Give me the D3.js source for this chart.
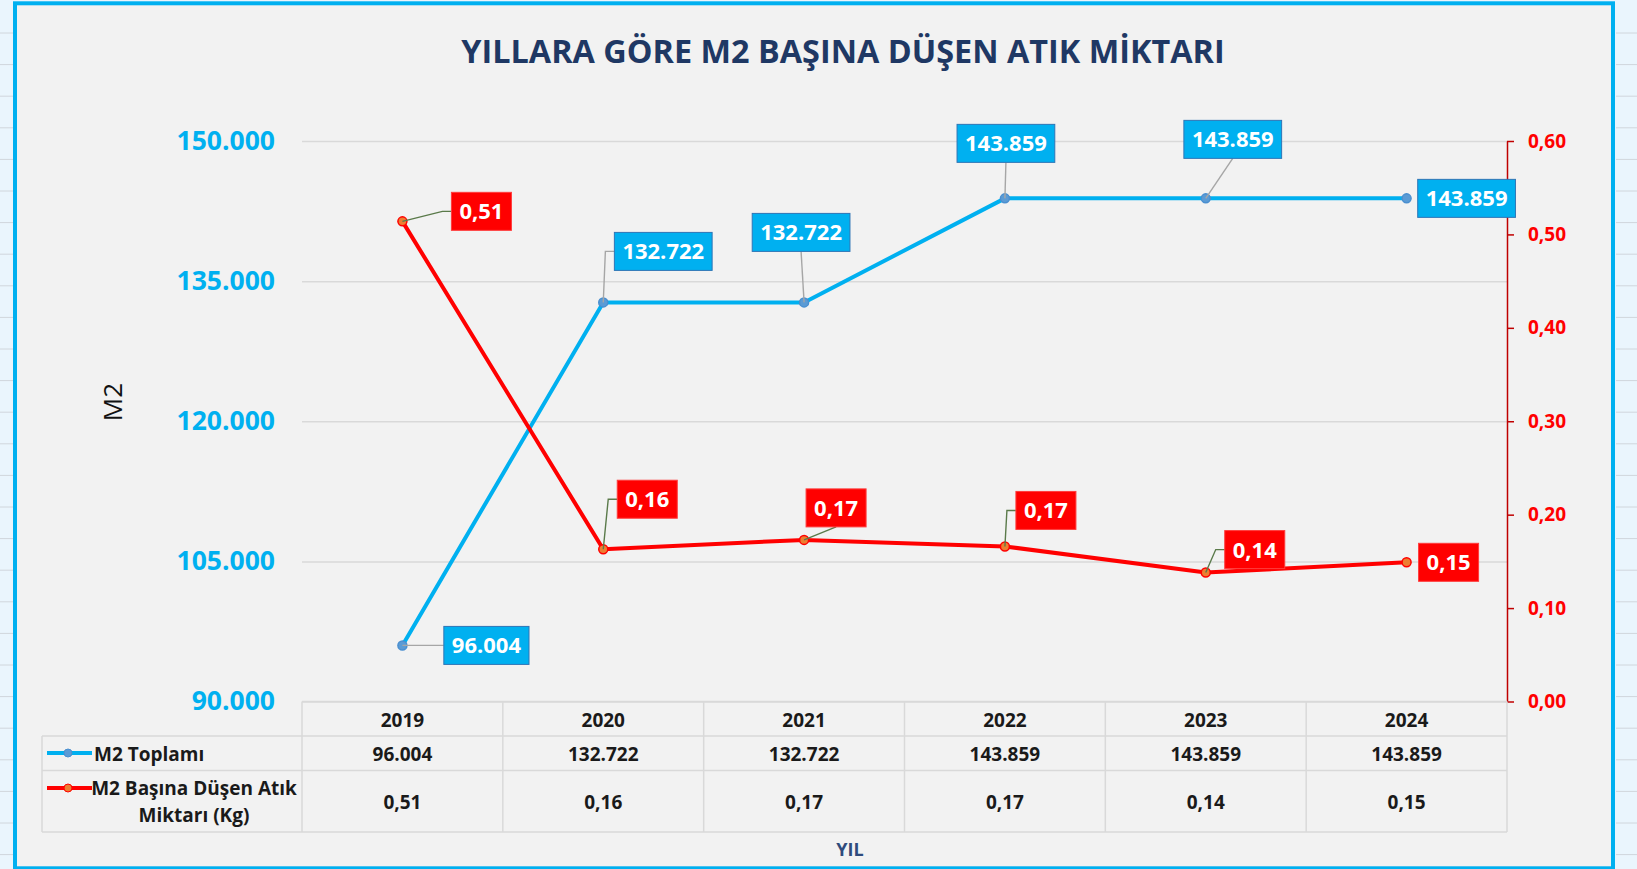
<!DOCTYPE html>
<html>
<head>
<meta charset="utf-8">
<script src="https://cdn.jsdelivr.net/npm/d3@7"></script>
<style>
  body { margin: 0; background: #eaf5fd; overflow: hidden; }
  text { font-family: "Open Sans", sans-serif; }
</style>
</head>
<body>
<div id="chart"></div>
<script>
// Data
const years = ['2019', '2020', '2021', '2022', '2023', '2024']
const m2Totals = [96004, 132722, 132722, 143859, 143859, 143859]
const wastePerM2 = [0.514, 0.163, 0.173, 0.166, 0.138, 0.149]
const leftTicks = [90000, 105000, 120000, 135000, 150000]
const rightTicks = [0, 0.1, 0.2, 0.3, 0.4, 0.5, 0.6]
const m2Name = ['M2 Toplamı']
const wasteName = ['M2 Başına Düşen Atık', 'Miktarı (Kg)']

// label placement: box centre offset from its point + leader kind
const m2LabelPos = [[84, 0, 'elbow'], [60, -51, 'elbow'], [-3, -70, 'bottom'], [1, -55, 'bottom'], [27, -59, 'bottom'], [60, 0, 'none']]
const wasteLabelPos = [[79, -10, 'elbow'], [44, -50, 'elbow'], [32, -32, 'bottom'], [41, -36, 'elbow'], [49, -23, 'elbow'], [42, 0, 'none']]

function draw() {
  // Dimensions
  let dimensions = {
    width: 1637,
    height: 869,
    left: 302,
    right: 1507,
    top: 141,
    bottom: 701.5,
    tableLeft: 42,
    rows: [701.5, 736, 770.5, 832]
  }

  const trLocale = d3.formatLocale({ decimal: ',', thousands: '.', grouping: [3], currency: ['', ' ₺'] })
  const fmtInt = trLocale.format(',.0f')
  const fmtDec = trLocale.format('.2f')

  const blue = '#00b0f0'
  const red = '#ff0000'
  const navy = '#1f3864'
  const grid = '#d9d9d9'

  const svg = d3.select('#chart')
    .append('svg')
    .attr('width', dimensions.width)
    .attr('height', dimensions.height)

  // page behind the chart (spreadsheet strips)
  svg.append('rect')
    .attr('width', dimensions.width)
    .attr('height', dimensions.height)
    .attr('fill', '#eaf5fd')
  const stripLines = d3.range(33, dimensions.height, 31.6)
  svg.append('g').selectAll('line')
    .data(stripLines)
    .join('line')
    .attr('x1', 0).attr('x2', 13)
    .attr('y1', d => d).attr('y2', d => d)
    .attr('stroke', '#d0d6dc')
  svg.append('g').selectAll('line')
    .data(stripLines)
    .join('line')
    .attr('x1', 1616).attr('x2', dimensions.width)
    .attr('y1', d => d).attr('y2', d => d)
    .attr('stroke', '#d0d6dc')

  // chart frame
  svg.append('rect')
    .attr('x', 15)
    .attr('y', 3.3)
    .attr('width', 1598)
    .attr('height', 865)
    .attr('fill', '#f2f2f2')
    .attr('stroke', blue)
    .attr('stroke-width', 4)

  // Title
  svg.append('text')
    .attr('x', 843)
    .attr('y', 63)
    .attr('text-anchor', 'middle')
    .attr('font-size', 32.4)
    .attr('font-weight', 700)
    .attr('fill', navy)
    .text('YILLARA GÖRE M2 BAŞINA DÜŞEN ATIK MİKTARI')

  // Scales
  const xScale = d3.scaleBand()
    .domain(years)
    .range([dimensions.left, dimensions.right])
  const xMid = d => xScale(d) + xScale.bandwidth() / 2

  const yLeft = d3.scaleLinear()
    .domain([90000, 150000])
    .range([dimensions.bottom, dimensions.top])
  const yRight = d3.scaleLinear()
    .domain([0, 0.6])
    .range([dimensions.bottom, dimensions.top])

  // left axis + gridlines
  const leftAxis = d3.axisLeft(yLeft)
    .tickValues(leftTicks)
    .tickFormat(fmtInt)
    .tickSize(-(dimensions.right - dimensions.left))
    .tickPadding(27)
  const leftGroup = svg.append('g')
    .attr('transform', `translate(${dimensions.left},0)`)
    .call(leftAxis)
  leftGroup.select('.domain').remove()
  leftGroup.selectAll('.tick line')
    .attr('stroke', grid)
    .attr('stroke-width', 1.5)
  leftGroup.selectAll('.tick text')
    .attr('fill', blue)
    .attr('font-size', 26.5)
    .attr('font-weight', 700)
    .attr('font-family', '"Open Sans", sans-serif')

  // left axis title
  svg.append('text')
    .attr('transform', 'translate(122,402) rotate(-90)')
    .attr('text-anchor', 'middle')
    .attr('font-size', 26)
    .attr('font-family', '"Liberation Sans", Arial, sans-serif')
    .attr('fill', '#111')
    .text('M2')

  // right axis
  const rightAxis = d3.axisRight(yRight)
    .tickValues(rightTicks)
    .tickFormat(fmtDec)
    .tickSizeInner(7)
    .tickSizeOuter(0)
    .tickPadding(14)
  const rightGroup = svg.append('g')
    .attr('transform', `translate(${dimensions.right},0)`)
    .call(rightAxis)
  rightGroup.select('.domain')
    .attr('stroke', '#c00000')
    .attr('stroke-width', 1.5)
  rightGroup.selectAll('.tick line')
    .attr('stroke', '#c00000')
    .attr('stroke-width', 1.5)
  rightGroup.selectAll('.tick text')
    .attr('fill', red)
    .attr('font-size', 19)
    .attr('font-weight', 700)
    .attr('font-family', '"Open Sans", sans-serif')

  // Data table
  const rows = dimensions.rows
  const table = svg.append('g')
  const hLines = [
    [dimensions.left, rows[0]],
    [dimensions.tableLeft, rows[1]],
    [dimensions.tableLeft, rows[2]],
    [dimensions.tableLeft, rows[3]]
  ]
  table.selectAll('line.h')
    .data(hLines)
    .join('line')
    .attr('class', 'h')
    .attr('x1', d => d[0])
    .attr('x2', dimensions.right)
    .attr('y1', d => d[1])
    .attr('y2', d => d[1])
    .attr('stroke', grid)
    .attr('stroke-width', 1.5)
  const colEdges = years.map(d => xScale(d)).concat([dimensions.right])
  table.selectAll('line.v')
    .data(colEdges)
    .join('line')
    .attr('class', 'v')
    .attr('x1', d => d)
    .attr('x2', d => d)
    .attr('y1', rows[0])
    .attr('y2', rows[3])
    .attr('stroke', grid)
    .attr('stroke-width', 1.5)
  table.append('line')
    .attr('x1', dimensions.tableLeft)
    .attr('x2', dimensions.tableLeft)
    .attr('y1', rows[1])
    .attr('y2', rows[3])
    .attr('stroke', grid)
    .attr('stroke-width', 1.5)

  const cellText = (sel, y) => sel
    .attr('x', (d, i) => xMid(years[i]))
    .attr('y', y)
    .attr('text-anchor', 'middle')
    .attr('font-size', 19)
    .attr('font-weight', 700)
    .attr('fill', '#1a1a1a')

  table.append('g').selectAll('text')
    .data(years)
    .join('text')
    .call(cellText, 726.5)
    .text(d => d)
  table.append('g').selectAll('text')
    .data(m2Totals)
    .join('text')
    .call(cellText, 760.5)
    .text(d => fmtInt(d))
  table.append('g').selectAll('text')
    .data(wastePerM2)
    .join('text')
    .call(cellText, 809)
    .text(d => fmtDec(d))

  // table legend keys
  const legend = table.append('g')
  legend.append('line')
    .attr('x1', 47).attr('x2', 92)
    .attr('y1', 753).attr('y2', 753)
    .attr('stroke', blue).attr('stroke-width', 4)
  legend.append('circle')
    .attr('cx', 68).attr('cy', 753).attr('r', 4)
    .attr('fill', '#5b9bd5').attr('stroke', '#4a8fd0')
  legend.append('text')
    .attr('x', 94).attr('y', 760.5)
    .attr('font-size', 19).attr('font-weight', 700).attr('fill', '#1a1a1a')
    .text(m2Name[0])
  legend.append('line')
    .attr('x1', 47).attr('x2', 92)
    .attr('y1', 788).attr('y2', 788)
    .attr('stroke', red).attr('stroke-width', 4)
  legend.append('circle')
    .attr('cx', 68).attr('cy', 788).attr('r', 4)
    .attr('fill', '#ed7d31').attr('stroke', red)
  legend.append('g').selectAll('text')
    .data(wasteName)
    .join('text')
    .attr('x', 194)
    .attr('y', (d, i) => 794.5 + i * 27.5)
    .attr('text-anchor', 'middle')
    .attr('font-size', 19).attr('font-weight', 700).attr('fill', '#1a1a1a')
    .text(d => d)

  // x axis title
  svg.append('text')
    .attr('x', 850)
    .attr('y', 856)
    .attr('text-anchor', 'middle')
    .attr('font-size', 18)
    .attr('font-weight', 700)
    .attr('fill', '#2f4b7c')
    .text('YIL')

  // Lines
  const m2Line = d3.line()
    .x((d, i) => xMid(years[i]))
    .y(d => yLeft(d))
  const wasteLine = d3.line()
    .x((d, i) => xMid(years[i]))
    .y(d => yRight(d))

  svg.append('path')
    .datum(m2Totals)
    .attr('d', m2Line)
    .attr('fill', 'none')
    .attr('stroke', blue)
    .attr('stroke-width', 4)
    .attr('stroke-linejoin', 'round')
  svg.append('path')
    .datum(wastePerM2)
    .attr('d', wasteLine)
    .attr('fill', 'none')
    .attr('stroke', red)
    .attr('stroke-width', 4)
    .attr('stroke-linejoin', 'round')

  // labels with leader lines
  function dataLabels(values, yScale, pos, fill, border, leaderColor, fmt) {
    const pts = values.map((v, i) => ({ x: xMid(years[i]), y: yScale(v), v, p: pos[i] }))
    const g = svg.append('g')

    // markers
    g.selectAll('circle')
      .data(pts)
      .join('circle')
      .attr('cx', d => d.x)
      .attr('cy', d => d.y)
      .attr('r', 4.5)
      .attr('fill', fill === red ? '#ed7d31' : '#5b9bd5')
      .attr('stroke', fill === red ? red : '#4a8fd0')
      .attr('stroke-width', 1.5)

    const leaders = g.append('g')
    const boxes = g.selectAll('g.lbl')
      .data(pts)
      .join('g')
      .attr('class', 'lbl')
      .attr('transform', d => `translate(${d.x + d.p[0]},${d.y + d.p[1]})`)
    const rects = boxes.append('rect')
    boxes.append('text')
      .attr('text-anchor', 'middle')
      .attr('y', 8)
      .attr('font-size', 22)
      .attr('font-weight', 700)
      .attr('fill', '#fff')
      .text(d => fmt(d.v))
      .each(function (d) { d.w = this.getComputedTextLength() + 16 })
    rects
      .attr('x', d => -d.w / 2)
      .attr('y', -19)
      .attr('width', d => d.w)
      .attr('height', 38)
      .attr('fill', fill)
      .attr('stroke', border)
      .attr('stroke-width', 1)

    leaders.selectAll('path')
      .data(pts.filter(d => d.p[2] !== 'none'))
      .join('path')
      .attr('d', d => {
        const cx = d.x + d.p[0]
        const cy = d.y + d.p[1]
        if (d.p[2] === 'bottom') return d3.line()([[d.x, d.y], [cx, cy + 19]])
        const left = cx - d.w / 2
        return d3.line()([[d.x, d.y], [left - 9, cy], [left, cy]])
      })
      .attr('fill', 'none')
      .attr('stroke', leaderColor)
      .attr('stroke-width', 1.4)
  }

  dataLabels(m2Totals, yLeft, m2LabelPos, blue, '#2e75b6', '#a6a6a6', fmtInt)
  dataLabels(wastePerM2, yRight, wasteLabelPos, red, '#ff3b3b', '#5a7a4a', fmtDec)
}

draw()
</script>
</body>
</html>
